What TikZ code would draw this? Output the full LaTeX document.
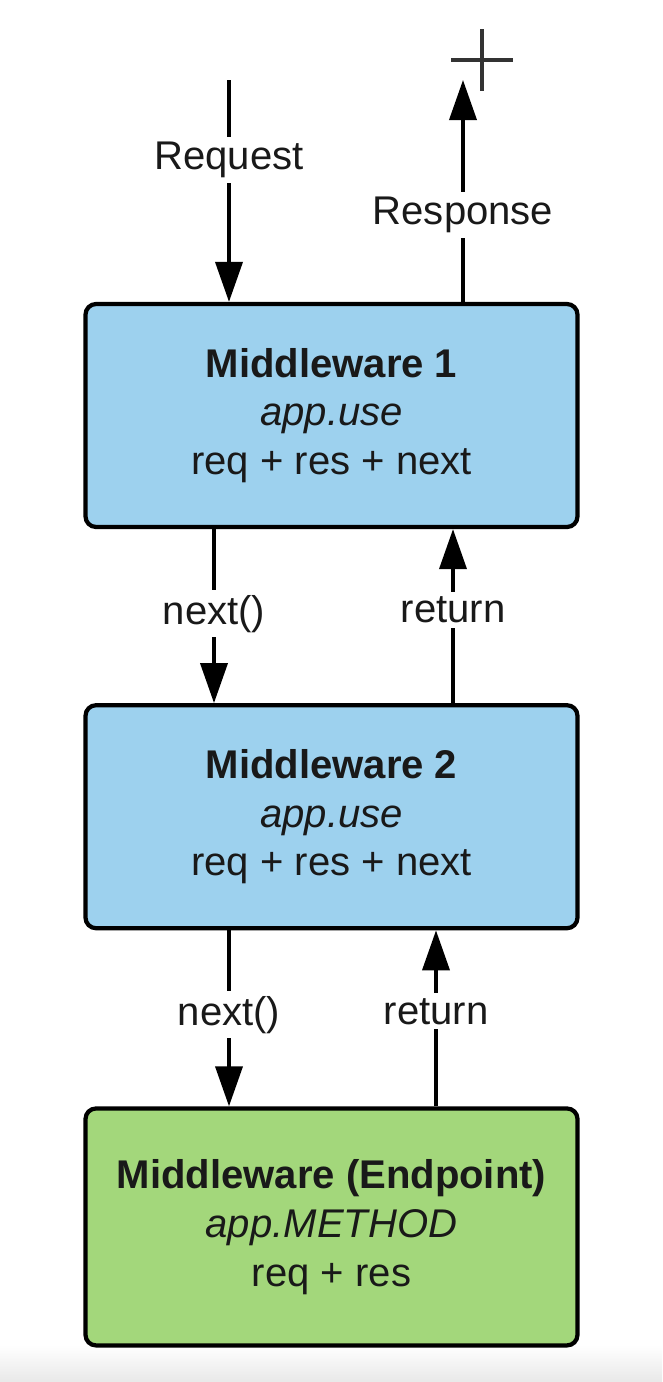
\documentclass[tikz,border=0pt]{standalone}
\usepackage{fontspec}
\setmainfont{Liberation Sans}
\usepackage{xcolor}
\usepackage{tikz}
\usetikzlibrary{arrows.meta,calc,positioning}
\definecolor{boxblue}{HTML}{9DD1EE}
\definecolor{boxgreen}{HTML}{A3D77B}
\definecolor{inkgray}{HTML}{333333}
\tikzset{
  mwbox/.style={draw, line width=2.4pt, rounded corners=6pt, align=center, minimum width=9.84cm, minimum height=4.46cm, text=black!90},
  flow/.style={line width=2.1pt, -{Triangle[length=0.8cm,width=0.54cm]}},
  flowlbl/.style={fill=white, inner sep=0.1cm, text=black!90}
}
\newcommand{\mwfont}{\fontsize{22.8}{27.8}\selectfont}

\begin{document}
\begin{tikzpicture}[node distance=3.48cm, font=\mwfont]
\useasboundingbox (0,0) rectangle (13.24,-27.64);
\fill[top color=white, bottom color=black!9] (0,-26.9) rectangle (13.24,-27.64);
\node[mwbox, fill=boxblue] (mw1) at (6.63,-8.31)
  {\textbf{Middleware 1} \\ \textit{app.use} \\ req + res + next};
\node[mwbox, fill=boxblue, below=of mw1] (mw2)
  {\textbf{Middleware 2} \\ \textit{app.use} \\ req + res + next};
\node[mwbox, fill=boxgreen, minimum height=4.74cm, below=3.52cm of mw2] (endp)
  {\textbf{Middleware (Endpoint)} \\ \textit{app.METHOD} \\ req + res};
\coordinate (req) at (4.58,-1.6);
\coordinate (res) at (9.26,-1.6);
\coordinate (plus) at (9.64,-1.2);
\draw[line width=2pt, inkgray] ($(plus)+(-0.62,0)$) -- ($(plus)+(0.62,0)$);
\draw[line width=2pt, inkgray] ($(plus)+(0,0.62)$) -- ($(plus)+(0,-0.62)$);
\draw[flow] (req) -- (req |- mw1.north) node[flowlbl, pos=.36] {Request};
\draw[flow] (res |- mw1.north) -- (res) node[flowlbl, pos=.39] {Response};
\draw[flow] ([xshift=-2.35cm]mw1.south) -- ([xshift=-2.35cm]mw2.north) node[flowlbl, pos=.486] {next()};
\draw[flow] ([xshift=2.43cm]mw2.north) -- ([xshift=2.43cm]mw1.south) node[flowlbl, pos=.537] {return};
\draw[flow] ([xshift=-2.05cm]mw2.south) -- ([xshift=-2.05cm]endp.north) node[flowlbl, pos=.48] {next()};
\draw[flow] ([xshift=2.09cm]endp.north) -- ([xshift=2.09cm]mw2.south) node[flowlbl, pos=.54] {return};
\end{tikzpicture}
\end{document}
